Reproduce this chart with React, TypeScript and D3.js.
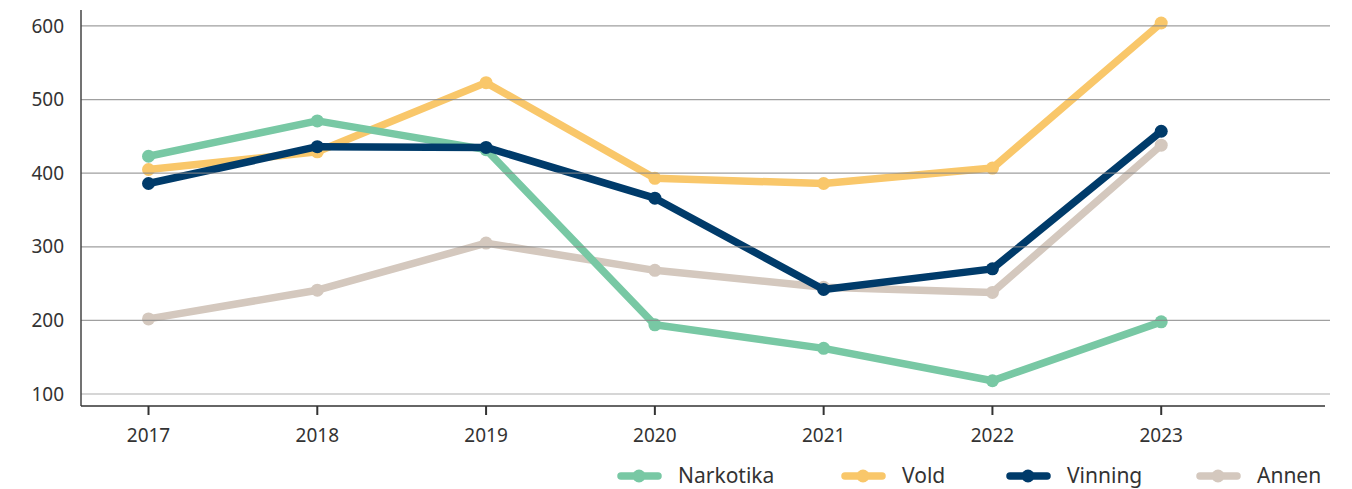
import React from 'react';
import * as d3 from 'd3';

const years = [2017, 2018, 2019, 2020, 2021, 2022, 2023];
const yTicks = [100, 200, 300, 400, 500, 600];

const narkotika = [423, 471, 432, 194, 162, 118, 198];
const vold = [405, 429, 523, 393, 386, 407, 604];
const vinning = [386, 436, 435, 366, 242, 270, 457];
const annen = [202, 241, 305, 268, 245, 238, 438];

// draw order: bottom first
const series = [
  { name: 'Annen', values: annen, color: '#d4c8be' },
  { name: 'Vold', values: vold, color: '#f9c76a' },
  { name: 'Narkotika', values: narkotika, color: '#78c8a4' },
  { name: 'Vinning', values: vinning, color: '#003b6a' },
];
const legendOrder = ['Narkotika', 'Vold', 'Vinning', 'Annen'];
const legendX = [617, 841, 1006, 1196];

const W = 1352;
const H = 489;
const font = '"Noto Sans", sans-serif';

export default function App() {
  const x = d3.scaleLinear().domain([2016.6, 2024]).range([81, 1330]);
  const y = d3.scaleLinear().domain([83.7, 621.7]).range([406, 10]);

  const line = d3
    .line<number>()
    .x((_, i) => x(years[i]))
    .y((d) => y(d));

  return (
    <svg width={W} height={H} style={{ position: 'absolute', left: 0, top: 0 }}>
      <rect width={W} height={H} fill="#fff" />
      {series.map((s) => (
        <g key={s.name}>
          <path d={line(s.values) || ''} fill="none" stroke={s.color} strokeWidth={7.5} strokeLinejoin="round" />
          {s.values.map((v, i) => (
            <circle key={i} cx={x(years[i])} cy={y(v)} r={6.5} fill={s.color} />
          ))}
        </g>
      ))}
      {/* gridlines drawn over the lines, semi-transparent */}
      {yTicks.map((t) => (
        <line
          key={t}
          x1={81}
          x2={1330}
          y1={y(t)}
          y2={y(t)}
          stroke={t === 100 ? '#bbb' : '#888'}
          strokeWidth={1.3}
          strokeOpacity={0.8}
        />
      ))}
      {yTicks.map((t) => (
        <text key={t} x={64} y={y(t)} dy="0.35em" textAnchor="end" fontFamily={font} fontSize={19} fill="#333">
          {t}
        </text>
      ))}
      <line x1={81} x2={81} y1={10} y2={406} stroke="#444" strokeWidth={1.5} />
      <line x1={81} x2={1325} y1={406} y2={406} stroke="#333" strokeWidth={1.5} />
      {years.map((yr) => (
        <g key={yr}>
          <line x1={x(yr)} x2={x(yr)} y1={406} y2={415} stroke="#333" strokeWidth={2} />
          <text x={x(yr)} y={435} dy="0.35em" textAnchor="middle" fontFamily={font} fontSize={19} fill="#333">
            {yr}
          </text>
        </g>
      ))}
      {legendOrder.map((name, i) => {
        const s = series.find((d) => d.name === name)!;
        const lx = legendX[i];
        return (
          <g key={name}>
            <line x1={lx + 4} x2={lx + 41} y1={476} y2={476} stroke={s.color} strokeWidth={7.5} strokeLinecap="round" />
            <circle cx={lx + 22} cy={476} r={6.5} fill={s.color} />
            <text x={lx + 61} y={476} dy="0.35em" fontFamily={font} fontSize={21} fill="#333">
              {name}
            </text>
          </g>
        );
      })}
    </svg>
  );
}
